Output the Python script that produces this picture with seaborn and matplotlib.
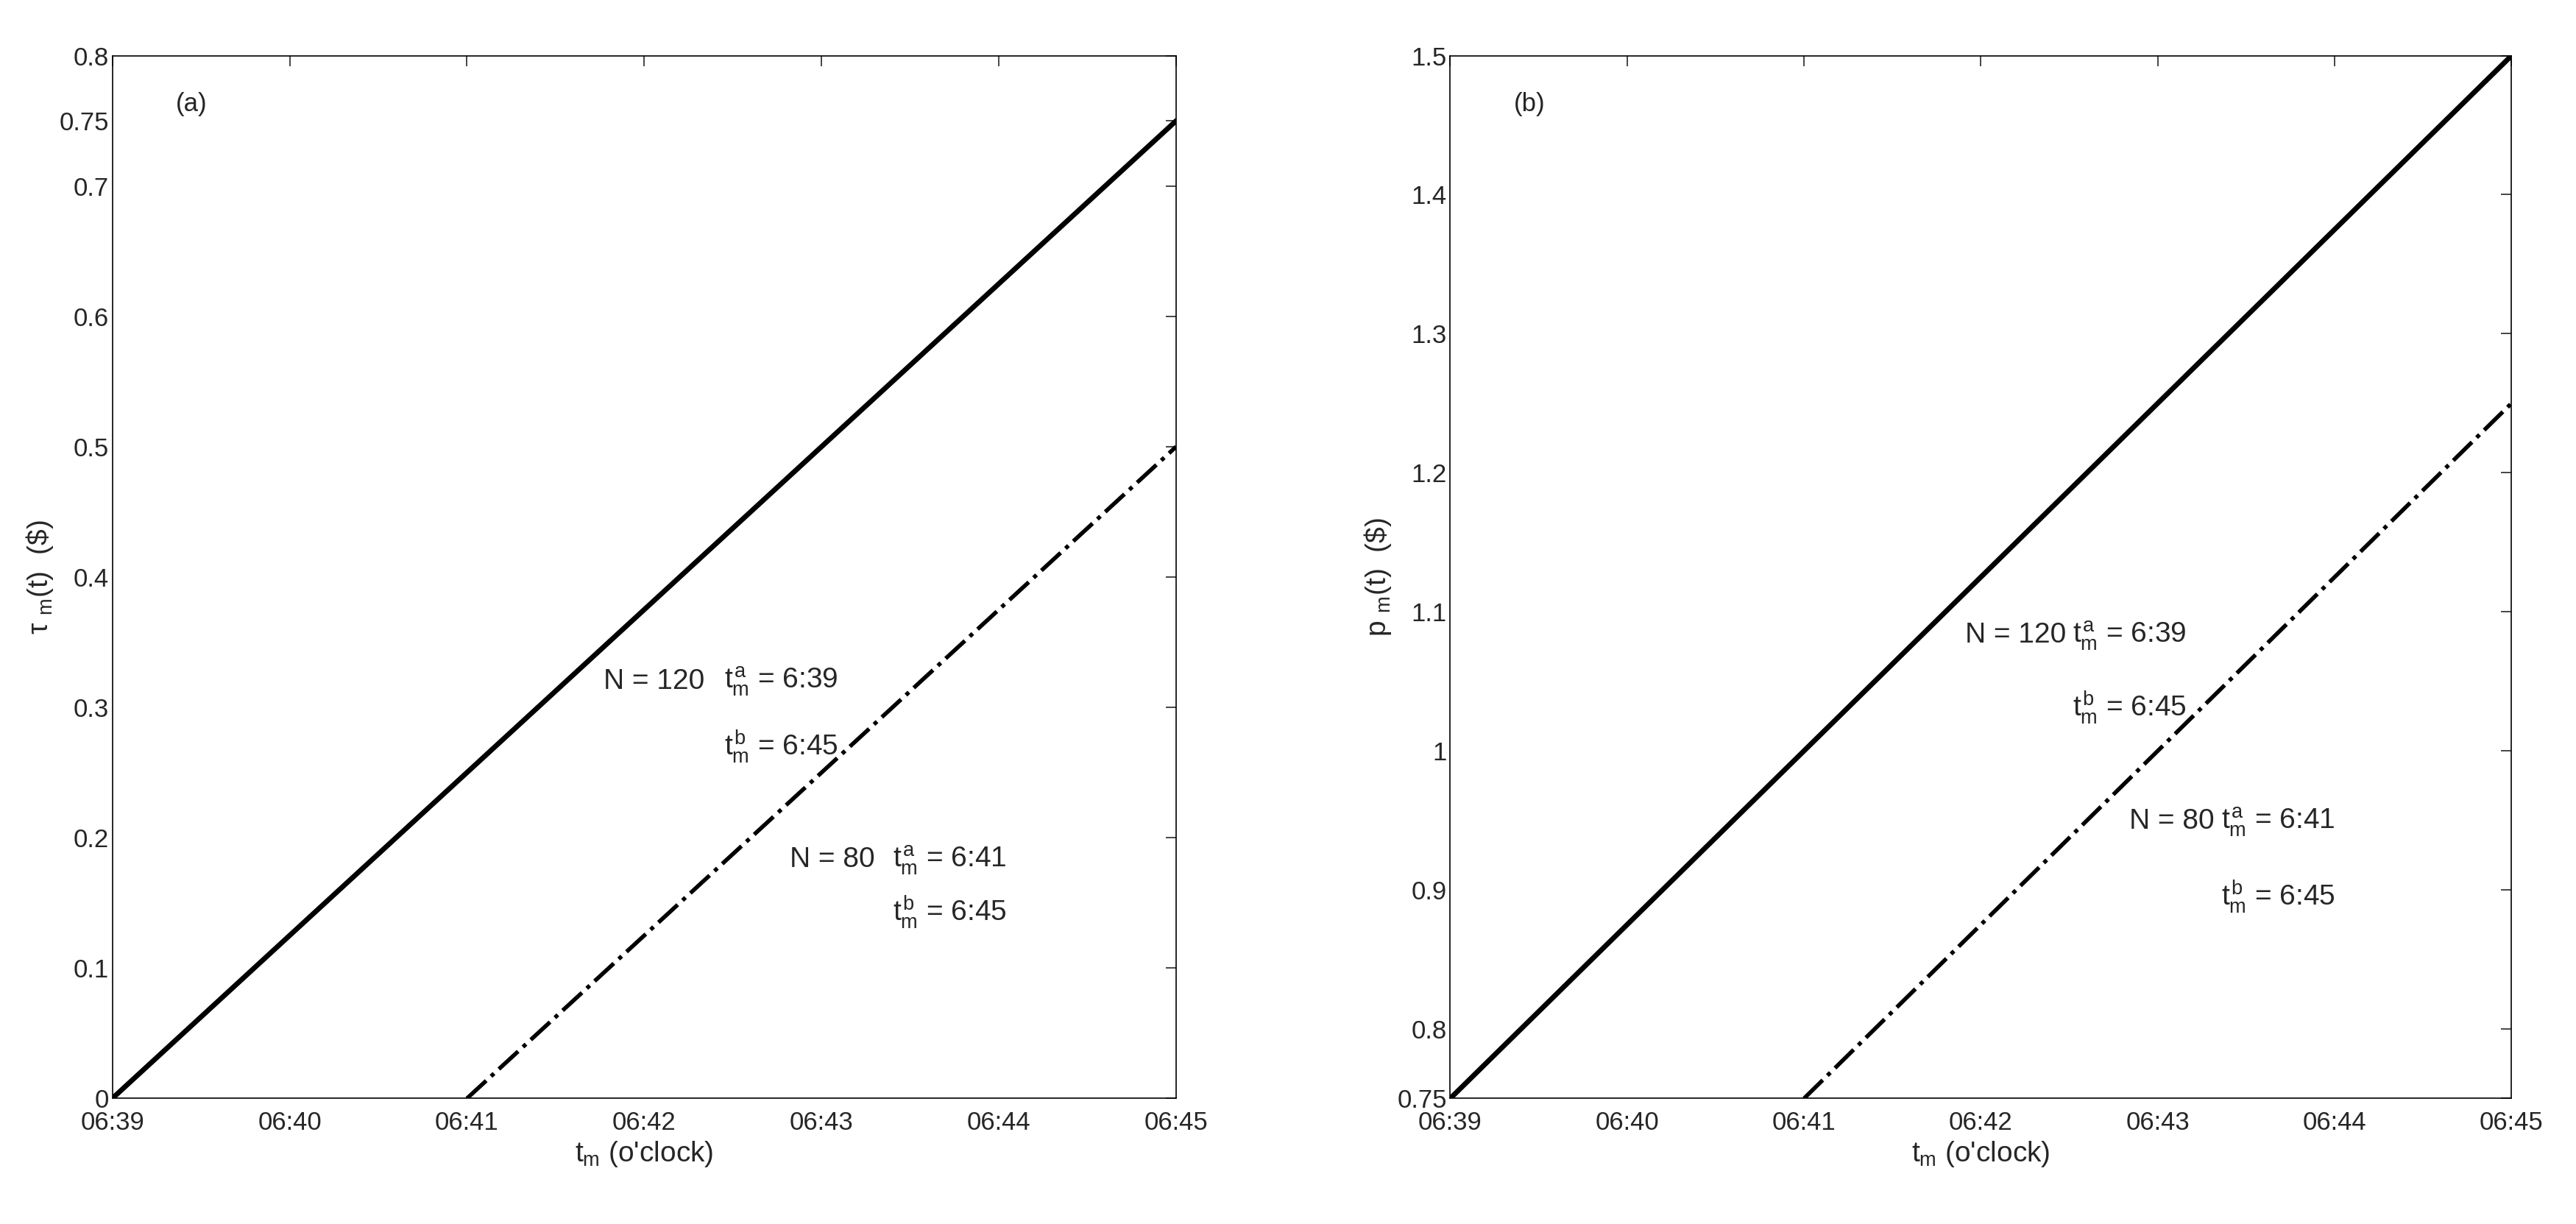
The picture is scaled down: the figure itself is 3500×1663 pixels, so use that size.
import matplotlib
matplotlib.use("Agg")
import matplotlib.pyplot as plt
import seaborn as sns
import pandas as pd

# minutes after 06:39
minutes = [0, 1, 2, 3, 4, 5, 6]
time_labels = ["06:39", "06:40", "06:41", "06:42", "06:43", "06:44", "06:45"]

# endpoints of the linear fare curves
tau_n120_t = [0, 6]
tau_n120 = [0.0, 0.75]
tau_n80_t = [2, 6]
tau_n80 = [0.0, 0.5]
p_n120_t = [0, 6]
p_n120 = [0.75, 1.5]
p_n80_t = [2, 6]
p_n80 = [0.75, 1.25]

left_yticks = [0, 0.1, 0.2, 0.3, 0.4, 0.5, 0.6, 0.7, 0.75, 0.8]
right_yticks = [0.75, 0.8, 0.9, 1.0, 1.1, 1.2, 1.3, 1.4, 1.5]

sns.set_style("white")
plt.rcParams["font.family"] = ["Liberation Sans Narrow", "Liberation Sans", "DejaVu Sans"]
plt.rcParams["mathtext.fontset"] = "custom"
plt.rcParams["mathtext.rm"] = "Liberation Sans"
plt.rcParams["mathtext.it"] = "Liberation Sans"

fig = plt.figure(figsize=(35, 16.63), dpi=100)
ax1 = fig.add_axes([0.0436, 0.1026, 0.413, 0.852])
ax2 = fig.add_axes([0.563, 0.1026, 0.412, 0.852])


def draw_panel(ax, t1, y1, t2, y2, ylim, yticks, ylabel, tag, notes):
    d1 = pd.DataFrame({"t": t1, "v": y1})
    d2 = pd.DataFrame({"t": t2, "v": y2})
    sns.lineplot(data=d1, x="t", y="v", ax=ax, color="black", lw=5)
    sns.lineplot(data=d2, x="t", y="v", ax=ax, color="black", lw=4, linestyle="-.")
    ax.set_xlim(0, 6)
    ax.set_ylim(*ylim)
    ax.set_xticks(minutes)
    ax.set_xticklabels(time_labels)
    ax.set_yticks(yticks)
    ax.set_yticklabels(["%g" % v for v in yticks])
    ax.tick_params(direction="in", labelsize=25, length=10, width=1.2,
                   top=True, right=True)
    ax.tick_params(axis="x", pad=12)
    for s in ax.spines.values():
        s.set_linewidth(1.2)
        s.set_color("black")
    ax.set_xlabel(r"$t_m$ (o'clock)", fontsize=28)
    ax.set_ylabel(ylabel, fontsize=28)
    ax.text(0.06, 0.965, tag, transform=ax.transAxes, fontsize=25, va="top")
    for x, y, s in notes:
        ax.text(x, y, s, fontsize=28, va="center")


draw_panel(ax1, tau_n120_t, tau_n120, tau_n80_t, tau_n80, (0, 0.8), left_yticks,
           r"$\tau\ _m(t)$  (\$)", "(a)",
           [(2.77, 0.32, "N = 120"), (3.45, 0.32, r"$t_m^a$ = 6:39"),
            (3.45, 0.27, r"$t_m^b$ = 6:45"), (3.82, 0.183, "N = 80"),
            (4.40, 0.183, r"$t_m^a$ = 6:41"), (4.40, 0.143, r"$t_m^b$ = 6:45")])
draw_panel(ax2, p_n120_t, p_n120, p_n80_t, p_n80, (0.75, 1.5), right_yticks,
           r"p $_m(t)$  (\$)", "(b)",
           [(2.91, 1.083, "N = 120"), (3.52, 1.083, r"$t_m^a$ = 6:39"),
            (3.52, 1.031, r"$t_m^b$ = 6:45"), (3.84, 0.949, "N = 80"),
            (4.36, 0.949, r"$t_m^a$ = 6:41"), (4.36, 0.895, r"$t_m^b$ = 6:45")])

fig.savefig("out.png", dpi=100)
